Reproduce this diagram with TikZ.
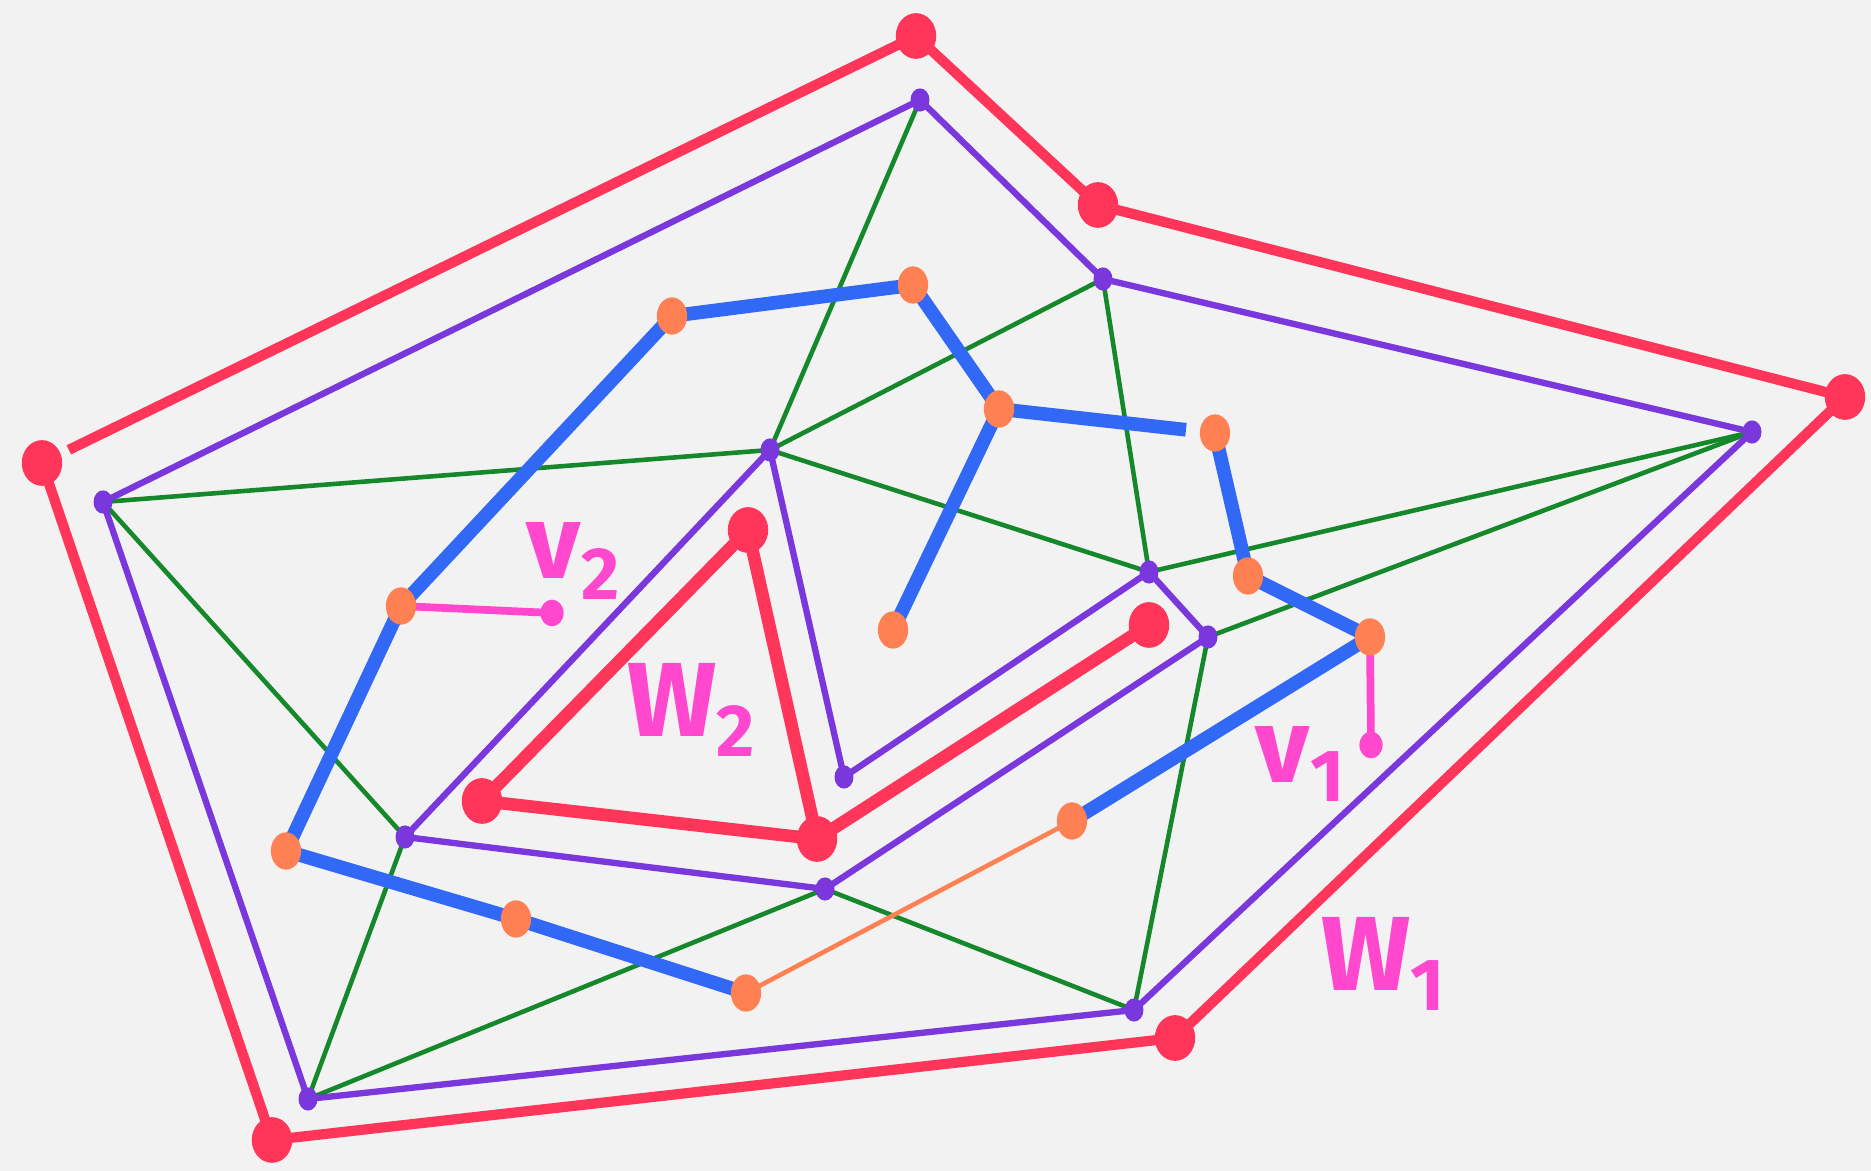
\documentclass[tikz,border=0pt]{standalone}
\usepackage{fontspec}
\setsansfont{Fira Sans}
\usetikzlibrary{shapes.geometric,backgrounds}
\definecolor{paper}{RGB}{242,242,242}
\definecolor{wred}{RGB}{255,54,90}
\definecolor{vpurple}{RGB}{122,56,220}
\definecolor{egreen}{RGB}{22,136,44}
\definecolor{tblue}{RGB}{50,104,246}
\definecolor{torange}{RGB}{255,128,82}
\definecolor{lpink}{RGB}{255,72,206}

\begin{document}
\begin{tikzpicture}[x=0.01cm,y=-0.01cm,line cap=round,line join=round,
  vdot/.style={ellipse,fill=vpurple,inner sep=0pt,minimum width=5.4pt,minimum height=6.6pt},
  tdot/.style={ellipse,fill=torange,inner sep=0pt,minimum width=8.6pt,minimum height=10.6pt},
  wdot/.style={ellipse,fill=wred,inner sep=0pt,minimum width=11.5pt,minimum height=13pt},
  ldot/.style={ellipse,fill=lpink,inner sep=0pt,minimum width=6.6pt,minimum height=7.6pt},
  gline/.style={draw=egreen,line width=1.3pt},
  vline/.style={draw=vpurple,line width=1.8pt},
  wline/.style={draw=wred,line width=2.9pt},
  wwline/.style={draw=wred,line width=3.6pt},
  tline/.style={draw=tblue,line width=3.9pt},
  oline/.style={draw=torange,line width=1.3pt},
  lline/.style={draw=lpink,line width=2.2pt},
  lab/.style={text=lpink,font=\sffamily\bfseries\fontsize{30}{30}\selectfont}]
  \useasboundingbox (0,0) rectangle (1871,1171);
  % vertices of the graph
  \foreach \n/\x/\y in {p1/920/100,p2/1103/279,p3/1752/432,p4/103/502,p5/770/450,
    p6/1149/572,p7/1208/637,p8/844/777,p9/405/837,p10/825/889,p11/1134/1010,p12/308/1099}
    \node[vdot] (\n) at (\x,\y) {};
  % outer and inner walks
  \foreach \n/\x/\y in {r1/916/36,r2/1098/205,r3/1845/397,r4/1175/1038,r5/272/1140,
    r6/42/463,r7/748/530,r8/482/801,r9/817/839,r10/1149/625}
    \node[wdot] (\n) at (\x,\y) {};
  % tree vertices
  \foreach \n/\x/\y in {o1/672/316,o2/913/285,o3/999/409,o4/1215/433,o5/893/630,o6/1248/576,
    o7/1370/637,o8/1072/821,o9/401/606,o10/286/851,o11/516/919,o12/746/993}
    \node[tdot] (\n) at (\x,\y) {};
  \node[ldot] (l2) at (552,613) {};
  \node[ldot] (l1) at (1371,745) {};
  \begin{scope}[on background layer]
    \fill[paper] (0,0) rectangle (1871,1171);
    % green edges
    \foreach \a/\b in {p1/p5,p2/p5,p4/p5,p5/p6,p2/p6,p6/p3,p7/p3,p7/p11,p4/p9,p9/p12,p12/p10,p10/p11}
      \draw[gline] (\a.center) -- (\b.center);
    % purple edges
    \foreach \a/\b in {p4/p1,p1/p2,p2/p3,p3/p11,p11/p12,p12/p4,p5/p9,p5/p8,p8/p6,p6/p7,p7/p10,p10/p9}
      \draw[vline] (\a.center) -- (\b.center);
    % red walks
    \draw[wline] (r6.center) -- (r5.center) -- (r4.center) -- (r3.center) -- (r2.center) -- (r1.center);
    \draw[wline,shorten >=8.5pt] (r1.center) -- (r6.center);
    \draw[wwline] (r7.center) -- (r8.center) -- (r9.center) -- cycle (r9.center) -- (r10.center);
    % blue tree
    \foreach \a/\b in {o1/o2,o2/o3,o3/o5,o4/o6,o6/o7,o7/o8,o1/o9,o9/o10,o10/o11,o11/o12}
      \draw[tline] (\a.center) -- (\b.center);
    \draw[tline,shorten >=8.3pt] (o3.center) -- (o4.center);
    \draw[oline] (o12.center) -- (o8.center);
    \draw[lline] (o9.center) -- (l2.center) (o7.center) -- (l1.center);
  \end{scope}
  % labels
  \node[lab] (tv2) at (574,561) {v\textsubscript{2}};
  \node[lab] (tw2) at (692,710) {W\textsubscript{2}};
  \node[lab] (tv1) at (1301,764) {v\textsubscript{1}};
  \node[lab] (tw1) at (1384,964) {W\textsubscript{1}};
\end{tikzpicture}
\end{document}
